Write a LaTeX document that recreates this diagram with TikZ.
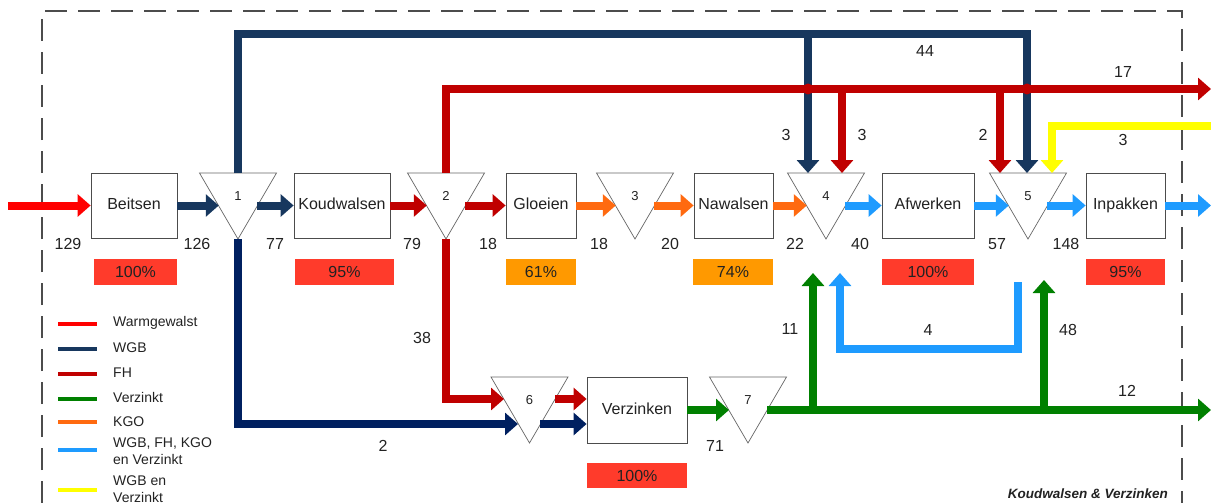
\documentclass[tikz,border=0pt]{standalone}
\usepackage{fontspec}
\setmainfont{Liberation Sans}
\usetikzlibrary{arrows.meta,positioning}

\definecolor{warmc}{HTML}{FF0000}
\definecolor{wgbc}{HTML}{17375E}
\definecolor{wgbdark}{HTML}{002060}
\definecolor{fhc}{HTML}{C00000}
\definecolor{verzc}{HTML}{008000}
\definecolor{kgoc}{HTML}{FF6A10}
\definecolor{mixc}{HTML}{1E9BFF}
\definecolor{gbvc}{HTML}{FFFF00}
\definecolor{pctred}{HTML}{FF3B2B}
\definecolor{pctorange}{HTML}{FF9900}
\definecolor{inkc}{HTML}{222222}

\tikzset{
  flow/.style={line width=8pt, -{Triangle[length=13pt,width=22pt]}},
  proc/.style={draw=black!70, fill=white, line width=0.8pt, minimum width=#1,
    minimum height=65pt, inner sep=0pt, text height=11.5pt, text depth=3.5pt,
    font=\fontsize{16}{19}\selectfont},
  pct/.style={fill=#1, inner sep=0pt, minimum height=26pt, font=\fontsize{16}{19}\selectfont},
  tri/.style={draw=black!60, fill=white, line width=0.7pt},
  trinum/.style={font=\fontsize{13}{15}\selectfont, inner sep=0pt},
  qty/.style={font=\fontsize{16}{19}\selectfont, inner sep=0pt},
  legline/.style={line width=4pt},
  legtext/.style={anchor=west, align=left, inner sep=0pt, font=\fontsize{14}{17}\selectfont},
  frame/.style={line width=1.4pt, black!70, dash pattern=on 22pt off 11pt}
}

% splitter triangle: name, centre x, top y, number
\newcommand{\splitter}[4]{%
  \draw[tri] (#2-38.5,#3) -- (#2+38.5,#3) -- (#2,#3+66) -- cycle;
  \node[trinum] (#1) at (#2,#3+23) {#4};
  \coordinate (#1top) at (#2,#3);
  \coordinate (#1bot) at (#2,#3+66);
  \coordinate (#1in) at (#2-19.25,#3+32.5);
  \coordinate (#1out) at (#2+19.25,#3+32.5);
}

\begin{document}
\begin{tikzpicture}[x=1pt, y=-1pt, text=inkc]
    \useasboundingbox (0,0) rectangle (1211,503);

    % System boundary
    \draw[frame] (42,503) -- (42,11) -- (1182,11) -- (1182,503);
    \node[anchor=east, inner sep=0pt, font=\fontsize{13.5}{16}\selectfont\bfseries\itshape] (sysname) at (1168,494) {Koudwalsen \& Verzinken};

    % Process boxes
    \node[proc=86pt] (beitsen) at (134,205.5) {Beitsen};
    \node[proc=96pt] (koud) at (342,205.5) {Koudwalsen};
    \node[proc=70pt] (gloei) at (541,205.5) {Gloeien};
    \node[proc=79pt] (nawals) at (733.5,205.5) {Nawalsen};
    \node[proc=92pt] (afwerk) at (928,205.5) {Afwerken};
    \node[proc=79pt] (inpak) at (1125.5,205.5) {Inpakken};
    \node[proc=100pt, minimum height=66pt] (verzink) at (637,410) {Verzinken};

    % Efficiencies
    \node[pct=pctred, minimum width=83pt] (pbeits) at (135.5,272) {100\%};
    \node[pct=pctred, minimum width=99pt] (pkoud) at (344.5,272) {95\%};
    \node[pct=pctorange, minimum width=70pt] (pgloei) at (541,272) {61\%};
    \node[pct=pctorange, minimum width=80pt] (pnaw) at (733,272) {74\%};
    \node[pct=pctred, minimum width=92pt] (pafw) at (928,272) {100\%};
    \node[pct=pctred, minimum width=79pt] (pinp) at (1125.5,272) {95\%};
    \node[pct=pctred, minimum width=100pt, minimum height=25pt] (pverz) at (637,475.5) {100\%};

    % Splitters
    \splitter{t1}{238}{173}{1}
    \splitter{t2}{446}{173}{2}
    \splitter{t3}{635}{173}{3}
    \splitter{t4}{826}{173}{4}
    \splitter{t5}{1028}{173}{5}
    \splitter{t6}{529.5}{377}{6}
    \splitter{t7}{748}{377}{7}

    % Free ends and junctions
    \coordinate (warmin) at (8,205.5);
    \coordinate (mixout) at (1211,205.5);
    \coordinate (wgbtop) at (238,34);
    \coordinate (jwgb4) at (808,34);
    \coordinate (t4wgb) at (808,173);
    \coordinate (t5wgb) at (1027,173);
    \coordinate (fhout) at (1211,89);
    \coordinate (t4fh) at (842,173);
    \coordinate (t5fh) at (1000,173);
    \coordinate (gbvin) at (1211,126);
    \coordinate (t5gbv) at (1052,173);
    \coordinate (t6fhin) at (504,399);
    \coordinate (t6fhout) at (555,399);
    \coordinate (t6wgbin) at (518,424);
    \coordinate (t6wgbout) at (540,424);
    \coordinate (t7vin) at (729,410);
    \coordinate (t7vout) at (767,410);
    \coordinate (verzout) at (1211,410);
    \coordinate (t4verz) at (813,273);
    \coordinate (t5verz) at (1044,280);
    \coordinate (retstart) at (1018,282);
    \coordinate (t4ret) at (840,273);

    % Main line
    \draw[flow, warmc] (warmin) -- (beitsen);
    \draw[flow, wgbc] (beitsen) -- (t1in);
    \draw[flow, wgbc] (t1out) -- (koud);
    \draw[flow, fhc] (koud) -- (t2in);
    \draw[flow, fhc] (t2out) -- (gloei);
    \draw[flow, kgoc] (gloei) -- (t3in);
    \draw[flow, kgoc] (t3out) -- (nawals);
    \draw[flow, kgoc] (nawals) -- (t4in);
    \draw[flow, mixc] (t4out) -- (afwerk);
    \draw[flow, mixc] (afwerk) -- (t5in);
    \draw[flow, mixc] (t5out) -- (inpak);
    \draw[flow, mixc] (inpak) -- (mixout);

    % WGB bypass over the top
    \draw[flow, wgbc] (t1top) -- (wgbtop) -| (t5wgb);
    \draw[flow, wgbc] (jwgb4) -- (t4wgb);

    % FH bypass
    \draw[flow, fhc] (t2top) |- (fhout);
    \draw[flow, fhc] (t4fh |- fhout) -- (t4fh);
    \draw[flow, fhc] (t5fh |- fhout) -- (t5fh);
    \fill[fhc] (t4wgb |- fhout) circle (5.5) (t5wgb |- fhout) circle (5.5);

    % WGB en Verzinkt return
    \draw[flow, gbvc] (gbvin) -| (t5gbv);

    % To Verzinken
    \draw[flow, wgbdark] (t1bot) |- (t6wgbin);
    \draw[flow, wgbdark] (t6wgbout) -- (verzink.west |- t6wgbout);
    \draw[flow, fhc] (t2bot) |- (t6fhin);
    \draw[flow, fhc] (t6fhout) -- (verzink.west |- t6fhout);
    \draw[flow, verzc] (verzink) -- (t7vin);

    % Verzinkt out and back
    \draw[flow, verzc] (t7vout) -- (verzout);
    \draw[flow, verzc] (t4verz |- verzout) -- (t4verz);
    \draw[flow, verzc] (t5verz |- verzout) -- (t5verz);
    \draw[flow, mixc] (retstart) -- ++(0,67) -| (t4ret);

    % Quantities
    \node[qty] (q129) at (68,244) {129};
    \node[qty] (q126) at (197,244) {126};
    \node[qty] (q77) at (275,244) {77};
    \node[qty] (q79) at (412,244) {79};
    \node[qty] (q18a) at (488,244) {18};
    \node[qty] (q18b) at (599,244) {18};
    \node[qty] (q20) at (670,244) {20};
    \node[qty] (q22) at (795,244) {22};
    \node[qty] (q40) at (860,244) {40};
    \node[qty] (q57) at (997,244) {57};
    \node[qty] (q148) at (1066,244) {148};
    \node[qty] (q44) at (925,51) {44};
    \node[qty] (q17) at (1123,72) {17};
    \node[qty] (q3a) at (786,135) {3};
    \node[qty] (q3b) at (862,135) {3};
    \node[qty] (q2a) at (983,135) {2};
    \node[qty] (q3c) at (1123,140) {3};
    \node[qty] (q38) at (422,338) {38};
    \node[qty] (q2b) at (383,446) {2};
    \node[qty] (q71) at (715,446) {71};
    \node[qty] (q11) at (790,329) {11};
    \node[qty] (q4) at (928,330) {4};
    \node[qty] (q48) at (1068,330) {48};
    \node[qty] (q12) at (1127,391) {12};

    % Legend
    \draw[legline, warmc] (58,324) -- (97,324);
    \draw[legline, wgbc] (58,349) -- (97,349);
    \draw[legline, fhc] (58,374) -- (97,374);
    \draw[legline, verzc] (58,399) -- (97,399);
    \draw[legline, kgoc] (58,422) -- (97,422);
    \draw[legline, mixc] (58,450) -- (97,450);
    \draw[legline, gbvc] (58,490) -- (97,490);
    \node[legtext] (lwarm) at (113,323) {Warmgewalst};
    \node[legtext] (lwgb) at (113,348) {WGB};
    \node[legtext] (lfh) at (113,373) {FH};
    \node[legtext] (lverz) at (113,397) {Verzinkt};
    \node[legtext] (lkgo) at (113,422) {KGO};
    \node[legtext] (lmix) at (113,451.5) {WGB, FH, KGO\\en Verzinkt};
    \node[legtext] (lgbv) at (113,489) {WGB en\\Verzinkt};
\end{tikzpicture}
\end{document}
